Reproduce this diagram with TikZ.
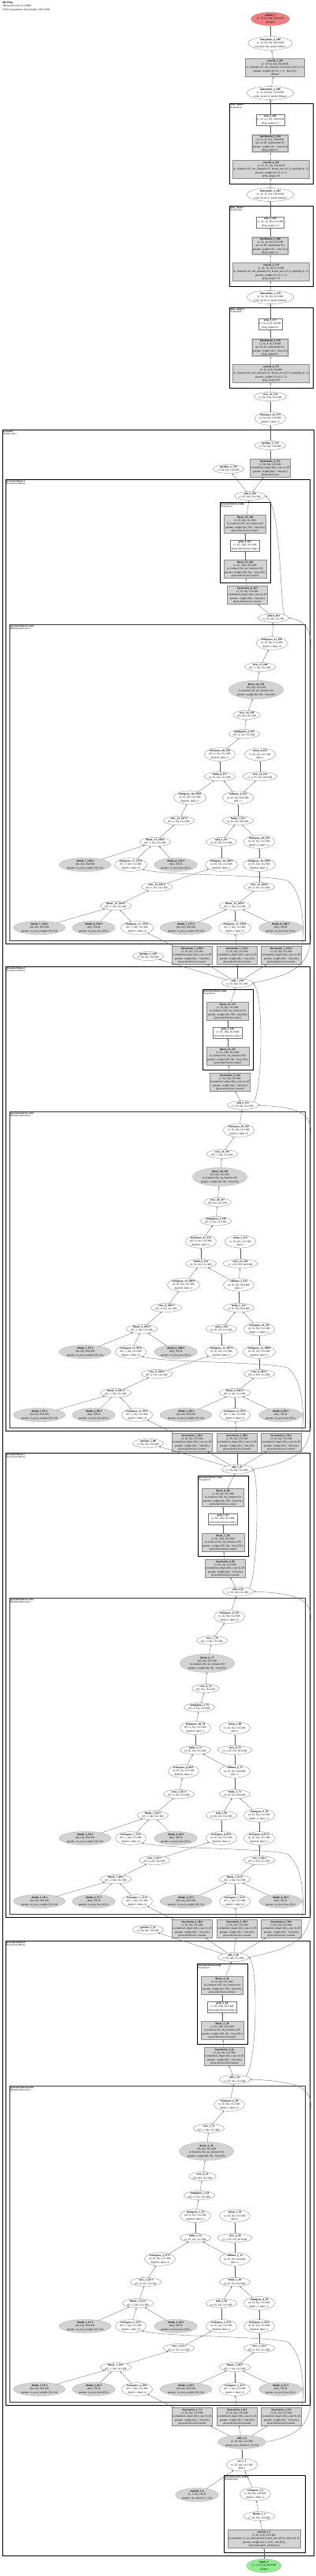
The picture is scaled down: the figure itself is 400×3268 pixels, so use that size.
\documentclass[tikz,border=0pt]{standalone}
\usepackage{fontspec}
\setmainfont{Liberation Serif}
\usetikzlibrary{arrows.meta,shapes.geometric,calc}
\definecolor{ink}{HTML}{000000}
\definecolor{parfill}{HTML}{D3D3D3}
\definecolor{outfill}{HTML}{F08080}
\definecolor{infill}{HTML}{90EE90}
% node ids inside a transformer block (41 per block)
\newcommand{\nid}[1]{\the\numexpr#1+41*\bk\relax}
\newcommand{\tix}[2]{\the\numexpr#1+#2*\bk\relax}

\begin{document}
\begin{tikzpicture}[x=1pt,y=-1pt,font=\fontsize{3.4}{4.3}\selectfont,>=Latex]
\tikzset{
  opnode/.style={ellipse,draw=ink!55,line width=0.3pt,fill=white,inner sep=0.2pt,align=center},
  parnode/.style={opnode,fill=parfill,draw=ink!35},
  modbox/.style={rectangle,draw=ink!45,fill=parfill,line width=0.5pt,inner sep=1.2pt,align=center},
  bnbox/.style={modbox,double=parfill,double distance=0.9pt},
  actbox/.style={rectangle,draw=ink!55,fill=white,line width=0.3pt,inner sep=1.2pt,align=center},
  grp/.style={draw=ink,line width=0.9pt},
  grplabel/.style={anchor=north west,inner sep=0.8pt,align=left,font=\fontsize{3}{3.5}\selectfont},
  wire/.style={-{Latex[length=2pt,width=1.5pt]},draw=ink!65,line width=0.3pt}
}
\useasboundingbox (0,0) rectangle (400,3268);

\node[anchor=north west,inner sep=0pt,align=left] (title) at (3,2) {\textbf{MLPPup}\\200 tensors total 12.6 MiB\\254311 parameters (all trainable, 993.4 KB)};

% head and up stages
\node[opnode,fill=outfill,draw=ink!40] (out) at (343,24) {\textbf{output\_1}\\(1, 19, 64, 64), 304.0 KB\\@output};
\node[opnode] (ip4) at (343,55) {\textbf{interpolate\_4\_188}\\(1, 19, 64, 64), 304.0 KB\\size=(64, 64), mode=bilinear};
\node[modbox] (head) at (349,86) {\textbf{conv2d\_5\_187}\\(1, 19, 64, 64), 304.0 KB\\in\_channels=32, out\_channels=19, kernel\_size=(1, 1)\\params: weight (19, 32, 1, 1) · bias (19,)\\@head};
\node[opnode] (ip3) at (343,118) {\textbf{interpolate\_3\_186}\\(1, 32, 64, 64), 512.0 KB\\scale\_factor=2, mode=bilinear};
\node[opnode] (ip2) at (343,247) {\textbf{interpolate\_2\_182}\\(1, 32, 32, 32), 128.0 KB\\scale\_factor=2, mode=bilinear};
\node[opnode] (ip1) at (343,377) {\textbf{interpolate\_1\_178}\\(1, 32, 16, 16), 32.0 KB\\scale\_factor=2, mode=bilinear};

\foreach \s/\yt/\c/\bn/\r/\sz/\cin in {2/131/4_183/3_184/3_185/{(1, 32, 32, 32), 128.0 KB}/32,
                                     1/261/3_179/2_180/2_181/{(1, 32, 16, 16), 32.0 KB}/32,
                                     0/390/2_175/1_176/1_177/{(1, 32, 8, 8), 8.0 KB}/64} {
  \draw[grp] (291,\yt) rectangle (397,\yt+102);
  \node[grplabel] at (291,\yt) {\textbf{@up\_stages.\s}\\(Sequential)};
  \node[actbox] (relu\s) at (343,\yt+21) {\textbf{relu\_\detokenize\expandafter{\r}}\\\sz\\@up\_stages.\s.2};
  \node[bnbox] (bn\s) at (343,\yt+51) {\textbf{batchnorm\_\detokenize\expandafter{\bn}}\\\sz\\eps=1e-05, momentum=0.1\\params: weight (32,) · bias (32,)\\@up\_stages.\s.1};
  \node[modbox] (conv\s) at (344,\yt+84) {\textbf{conv2d\_\detokenize\expandafter{\c}}\\\sz\\in\_channels=\cin, out\_channels=32, kernel\_size=(3, 3), padding=(1, 1)\\params: weight (32, \cin, 3, 3)\\@up\_stages.\s.0};
  \draw[wire] (conv\s) -- (bn\s);
  \draw[wire] (bn\s) -- (relu\s);
}
\node[opnode] (view22) at (343,503) {\textbf{view\_22\_174}\\(1, 64, 8, 8), 16.0 KB};
\node[opnode] (tr34) at (343,531) {\textbf{transpose\_34\_173}\\(1, 64, 64), 16.0 KB\\dim0=1, dim1=2};
\draw[wire] (tr34) -- (view22);
\draw[wire] (view22) -- (conv0);
\draw[wire] (relu0) -- (ip1);
\draw[wire] (ip1) -- (conv1);
\draw[wire] (relu1) -- (ip2);
\draw[wire] (ip2) -- (conv2);
\draw[wire] (relu2) -- (ip3);
\draw[wire] (ip3) -- (head);
\draw[wire] (head) -- (ip4);
\draw[wire] (ip4) -- (out);

% encoder
\draw[grp] (3,545) rectangle (398,3242);
\node[grplabel] at (3,545) {\textbf{@encoder}\\(ViTEncoder)};
\node[opnode] (gi5) at (343,565) {\textbf{getitem\_5\_172}\\(1, 64, 64), 16.0 KB};
\node[modbox] (ln9) at (343,594) {\textbf{layernorm\_9\_171}\\(1, 65, 64), 16.2 KB\\normalized\_shape=(64,), eps=1e-05\\params: weight (64,) · bias (64,)\\@encoder.norm};
\node[opnode] (gi4) at (290,595) {\textbf{getitem\_4\_170}\\(1, 64, 64), 16.0 KB};
\draw[wire] (ln9) -- (gi5);
\draw[wire] (gi5) -- (tr34);

% embedding
\node[parnode] (posadd) at (307,3098) {\textbf{add\_1\_6}\\(1, 65, 64), 16.2 KB\\params: pos\_embed (1, 65, 64)};
\node[opnode] (cat) at (307,3127) {\textbf{cat\_1\_5}\\(1, 65, 64), 16.2 KB\\dim=1};
\node[parnode] (expand) at (250,3165) {\textbf{expand\_1\_4}\\(1, 1, 64), 256 B\\params: cls\_token (1, 1, 64)};
\draw[grp] (284,3140) rectangle (387,3238);
\node[grplabel] at (284,3140) {\textbf{@encoder.patch\_embed}\\(PatchEmbed)};
\node[opnode] (tr1) at (324,3164) {\textbf{transpose\_1\_3}\\(1, 64, 64), 16.0 KB\\dim0=1, dim1=2};
\node[opnode] (flat) at (329,3192) {\textbf{flatten\_1\_2}\\(1, 64, 64), 16.0 KB};
\node[modbox] (proj) at (335,3221) {\textbf{conv2d\_1\_1}\\(1, 64, 8, 8), 16.0 KB\\in\_channels=3, out\_channels=64, kernel\_size=(8, 8), stride=(8, 8)\\params: weight (64, 3, 8, 8) · bias (64,)\\@encoder.patch\_embed.proj};
\node[opnode,fill=infill,draw=ink!40] (inp) at (335,3255) {\textbf{input\_1}\\(1, 3, 64, 64), 48.0 KB\\@input};
\draw[wire] (inp) -- (proj);
\draw[wire] (proj) -- (flat);
\draw[wire] (flat) -- (tr1);
\draw[wire] (tr1) -- (cat);
\draw[wire] (expand) -- (cat);
\draw[wire] (cat) -- (posadd);

% transformer blocks
\foreach \bk/\Y/\prev/\xA/\xM/\xml/\xT/\xV/\xL/\xvc/\xcc/\xc/\xr/\xs/\xtv/\xvv/\xlv/\xvq in {
  0/2638/posadd/298/296/250/291/265/262/257/253/248/298/298/203/185/175/227,
  1/2019/addm-0/302/301/251/291/269/263/261/253/248/298/298/233/227/194/196,
  2/1402/addm-1/308/301/257/303/282/279/276/274/255/305/303/233/211/180/199,
  3/784/addm-2/347/317/279/345/330/325/313/310/279/330/302/241/227/197/199} {
  \draw[grp] (7,\Y-176) rectangle (393,\Y+413);
  \node[grplabel] at (7,\Y-176) {\textbf{@encoder.blocks.\bk}\\(TransformerBlock)};
  \draw[grp,draw=ink!80] (12,\Y+8) rectangle (387,\Y+409);
  \node[grplabel] at (12,\Y+8) {\textbf{@encoder.blocks.\bk.attn}\\(MultiheadAttention)};
  \draw[grp] (\xml,\Y-147) rectangle (\xml+64,\Y-45);
  \node[grplabel] at (\xml,\Y-147) {\textbf{@encoder.blocks.\bk.mlp}\\(Sequential)};
  \foreach \k/\x in {1/244,2/301,3/357}
    \node[modbox] (ln\k-\bk) at (\x,\Y+428) {\textbf{layernorm\_\tix{1}{2}\_\nid{6+\k}:\k}\\(1, 65, 64), 16.2 KB\\normalized\_shape=(64,), eps=1e-05\\params: weight (64,) · bias (64,)\\@encoder.blocks.\bk.norm1};
  % q, k, v inputs
  \node[parnode] (cw1-\bk) at (50,\Y+393) {\textbf{chunk\_\tix{1}{2}\_\nid{13}:1}\\(64, 64), 16.0 KB\\params: in\_proj\_weight (192, 64)};
  \node[parnode] (cb1-\bk) at (119,\Y+393) {\textbf{chunk\_\tix{2}{2}\_\nid{16}:1}\\(64,), 256 B\\params: in\_proj\_bias (192,)};
  \node[opnode] (tq-\bk) at (174,\Y+393) {\textbf{transpose\_\tix{2}{5}\_\nid{10}:1}\\(65, 1, 64), 16.2 KB\\dim0=1, dim1=0};
  \node[parnode] (cw2-\bk) at (236,\Y+393) {\textbf{chunk\_\tix{1}{2}\_\nid{14}:2}\\(64, 64), 16.0 KB\\params: in\_proj\_weight (192, 64)};
  \node[opnode] (tk-\bk) at (298,\Y+393) {\textbf{transpose\_\tix{2}{5}\_\nid{11}:2}\\(65, 1, 64), 16.2 KB\\dim0=1, dim1=0};
  \node[parnode] (cb2-\bk) at (356,\Y+393) {\textbf{chunk\_\tix{2}{2}\_\nid{17}:2}\\(64,), 256 B\\params: in\_proj\_bias (192,)};
  \node[opnode] (lq-\bk) at (147,\Y+365) {\textbf{linear\_\tix{1}{4}\_\nid{19}:1}\\(65, 1, 64), 16.2 KB};
  \node[opnode] (lk-\bk) at (298,\Y+365) {\textbf{linear\_\tix{1}{4}\_\nid{20}:2}\\(65, 1, 64), 16.2 KB};
  \node[opnode] (vq-\bk) at (\xvq,\Y+341) {\textbf{view\_\tix{1}{4}\_\nid{22}:1}\\(65, 4, 16), 16.2 KB};
  \node[opnode] (vk-\bk) at (329,\Y+341) {\textbf{view\_\tix{1}{4}\_\nid{23}:2}\\(65, 4, 16), 16.2 KB};
  \node[parnode] (cw3-\bk) at (108,\Y+313) {\textbf{chunk\_\tix{1}{2}\_\nid{15}:3}\\(64, 64), 16.0 KB\\params: in\_proj\_weight (192, 64)};
  \node[opnode] (tv-\bk) at (166,\Y+313) {\textbf{transpose\_\tix{2}{5}\_\nid{12}:3}\\(65, 1, 64), 16.2 KB\\dim0=1, dim1=0};
  \node[parnode] (cb3-\bk) at (223,\Y+313) {\textbf{chunk\_\tix{2}{2}\_\nid{18}:3}\\(64,), 256 B\\params: in\_proj\_bias (192,)};
  \node[opnode] (tq2-\bk) at (281,\Y+313) {\textbf{transpose\_\tix{3}{5}\_\nid{25}:1}\\(4, 65, 16), 16.2 KB\\dim0=0, dim1=1};
  \node[opnode] (tk2-\bk) at (329,\Y+313) {\textbf{transpose\_\tix{3}{5}\_\nid{26}:2}\\(4, 65, 16), 16.2 KB\\dim0=0, dim1=1};
  % scores
  \node[opnode] (lv-\bk) at (\xlv,\Y+284) {\textbf{linear\_\tix{1}{4}\_\nid{21}:3}\\(65, 1, 64), 16.2 KB};
  \node[opnode] (mul-\bk) at (281,\Y+284) {\textbf{mul\_\tix{1}{1}\_\nid{28}}\\(4, 65, 16), 16.2 KB};
  \node[opnode] (kt-\bk) at (329,\Y+284) {\textbf{transpose\_\tix{4}{5}\_\nid{29}}\\(4, 16, 65), 16.2 KB\\dim0=-2, dim1=-1};
  \node[opnode] (vv-\bk) at (\xvv,\Y+257) {\textbf{view\_\tix{1}{4}\_\nid{24}:3}\\(65, 4, 16), 16.2 KB};
  \node[opnode] (bmma-\bk) at (\xs,\Y+257) {\textbf{bmm\_\tix{1}{2}\_\nid{30}}\\(4, 65, 65), 66.0 KB};
  \node[opnode] (tv2-\bk) at (\xtv,\Y+228) {\textbf{transpose\_\tix{3}{5}\_\nid{27}:3}\\(4, 65, 16), 16.2 KB\\dim0=0, dim1=1};
  \node[opnode] (sm-\bk) at (\xs,\Y+228) {\textbf{softmax\_\tix{1}{1}\_\nid{31}}\\(4, 65, 65), 66.0 KB\\dim=-1};
  \node[opnode] (bmmb-\bk) at (\xc,\Y+201) {\textbf{bmm\_\tix{2}{2}\_\nid{32}}\\(4, 65, 16), 16.2 KB};
  \node[opnode] (vw-\bk) at (\xr,\Y+201) {\textbf{view\_\tix{4}{4}\_\nid{38}}\\(1, 4, 65, 65), 66.0 KB};
  \node[opnode] (tc-\bk) at (\xc,\Y+173) {\textbf{transpose\_\tix{5}{5}\_\nid{33}}\\(65, 4, 16), 16.2 KB\\dim0=0, dim1=1};
  \node[opnode] (mean-\bk) at (\xr,\Y+173) {\textbf{mean\_\tix{1}{1}\_\nid{39}}\\(1, 65, 65), 16.5 KB\\dim=1};
  \node[opnode] (ctg-\bk) at (\xcc,\Y+147) {\textbf{contiguous\_\tix{1}{1}\_\nid{34}}\\(65, 4, 16), 16.2 KB};
  \node[opnode] (vc-\bk) at (\xvc,\Y+123) {\textbf{view\_\tix{2}{4}\_\nid{35}}\\(65, 64), 16.2 KB};
  \node[parnode] (lo-\bk) at (\xL,\Y+91) {\textbf{linear\_\tix{2}{4}\_\nid{36}}\\(65, 64), 16.2 KB\\in\_features=64, out\_features=64\\params: weight (64, 64) · bias (64,)};
  \node[opnode] (vo-\bk) at (\xV,\Y+62) {\textbf{view\_\tix{3}{4}\_\nid{37}}\\(65, 1, 64), 16.2 KB};
  \node[opnode] (tro-\bk) at (\xT,\Y+32) {\textbf{transpose\_\tix{6}{5}\_\nid{40}}\\(1, 65, 64), 16.2 KB\\dim0=1, dim1=0};
  \node[opnode] (adda-\bk) at (\xA,\Y) {\textbf{add\_\tix{2}{2}\_\nid{41}}\\(1, 65, 64), 16.2 KB};
  % mlp
  \node[modbox] (n2-\bk) at (\xml+35,\Y-29) {\textbf{layernorm\_\tix{2}{2}\_\nid{42}}\\(1, 65, 64), 16.2 KB\\normalized\_shape=(64,), eps=1e-05\\params: weight (64,) · bias (64,)\\@encoder.blocks.\bk.norm2};
  \node[modbox] (m0-\bk) at (\xml+32,\Y-62) {\textbf{linear\_\tix{3}{4}\_\nid{43}}\\(1, 65, 256), 65.0 KB\\in\_features=64, out\_features=256\\params: weight (256, 64) · bias (256,)\\@encoder.blocks.\bk.mlp.0};
  \node[actbox] (gelu-\bk) at (\xml+32,\Y-92) {\textbf{gelu\_\tix{1}{1}\_\nid{44}}\\(1, 65, 256), 65.0 KB\\@encoder.blocks.\bk.mlp.1};
  \node[modbox] (m2-\bk) at (\xml+32,\Y-119) {\textbf{linear\_\tix{4}{4}\_\nid{45}}\\(1, 65, 64), 16.2 KB\\in\_features=256, out\_features=64\\params: weight (64, 256) · bias (64,)\\@encoder.blocks.\bk.mlp.2};
  \node[opnode] (addm-\bk) at (\xM,\Y-155) {\textbf{add\_\tix{3}{2}\_\nid{46}}\\(1, 65, 64), 16.2 KB};
  % connectors
  \foreach \s/\t in {ln1/tq,ln2/tk,cw1/lq,cb1/lq,tq/lq,cw2/lk,tk/lk,cb2/lk,cw3/lv,tv/lv,cb3/lv,
                     lq/vq,lk/vk,lv/vv,vq/tq2,vk/tk2,vv/tv2,tq2/mul,tk2/kt,mul/bmma,kt/bmma,
                     bmma/sm,sm/bmmb,tv2/bmmb,sm/vw,vw/mean,bmmb/tc,tc/ctg,ctg/vc,vc/lo,lo/vo,
                     vo/tro,tro/adda,adda/n2,n2/m0,m0/gelu,gelu/m2,m2/addm}
    \draw[wire] (\s-\bk) -- (\t-\bk);
  \draw[wire] (\prev) -- (ln1-\bk);
  \draw[wire] (\prev) -- (ln2-\bk);
  \draw[wire] (\prev) -- (ln3-\bk);
  \draw[wire] (ln3-\bk.north east) .. controls (386,\Y+395) and (386,\Y+350) .. (365,\Y+333) .. controls (330,\Y+325) and (215,\Y+327) .. (tv-\bk.south east);
  \draw[wire] (\prev.east) .. controls (390,\Y+450) and (395,\Y+430) .. (395,\Y+390) -- (395,\Y+40) .. controls (395,\Y+12) and (385,\Y+3) .. (adda-\bk.east);
  \draw[wire] (adda-\bk.north east) .. controls (\xml+76,\Y-20) and (\xml+78,\Y-140) .. (addm-\bk.east);
}
\foreach \k/\y/\src in {1/2448/addm-0,2/1831/addm-1,3/1213/addm-2} {
  \node[opnode] (gi\k) at (188,\y) {\textbf{getitem\_\k\_\the\numexpr6+41*\k\relax}\\(1, 64, 64), 16.0 KB};
  \draw[wire] (\src) -- (gi\k);
}
\draw[wire] (addm-3) -- (gi4);
\draw[wire] (addm-3) -- (ln9);
\end{tikzpicture}
\end{document}
